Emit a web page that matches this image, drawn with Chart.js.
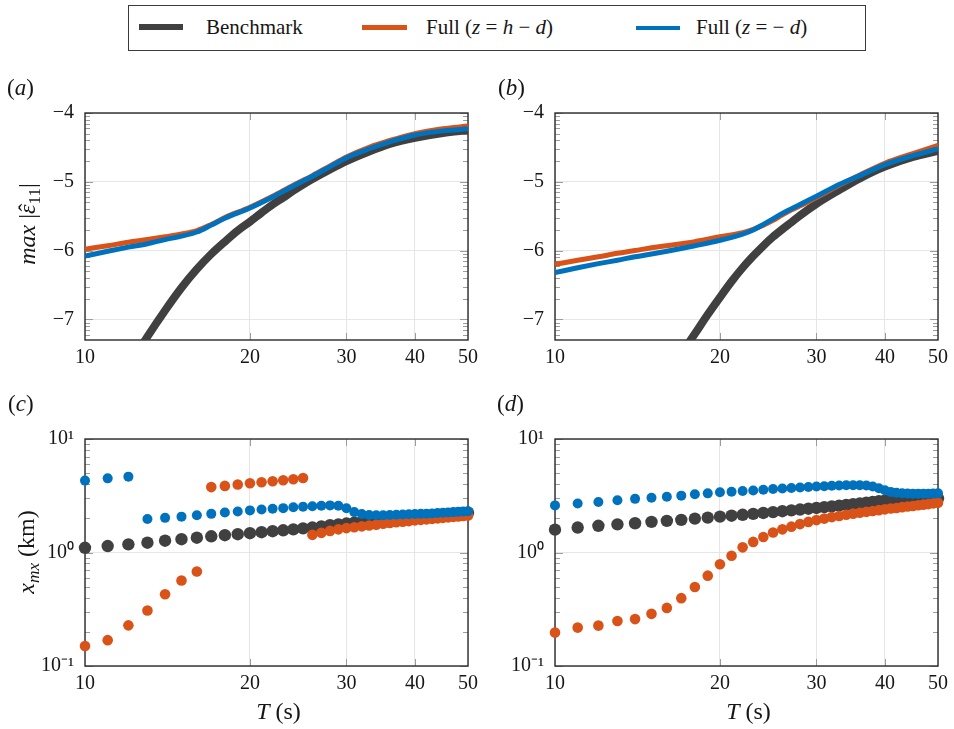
<!DOCTYPE html>
<html>
<head>
<meta charset="utf-8">
<script src="https://cdn.jsdelivr.net/npm/chart.js@4.4.1/dist/chart.umd.min.js"></script>
<style>
html,body{margin:0;padding:0;background:#fff;}
#fig{position:relative;width:954px;height:729px;overflow:hidden;font-family:"Liberation Serif","Times New Roman",serif;color:#161616;}
canvas{position:absolute;}
.t{position:absolute;white-space:nowrap;line-height:1;}
.sw{position:absolute;}
.rot{transform:translate(-50%,-50%) rotate(-90deg);}
.cen{transform:translate(-50%,-50%);}
sub{font-size:0.72em;vertical-align:-0.28em;line-height:0;}
.hat{position:relative;display:inline-block;}
.hat b{position:absolute;left:0.11em;top:0.02em;font-weight:normal;font-style:normal;}
</style>
</head>
<body>
<div id="fig">
  <canvas id="cA" width="484" height="290" style="left:0px;top:90px;"></canvas>
  <canvas id="cB" width="484" height="290" style="left:470px;top:90px;"></canvas>
  <canvas id="cC" width="484" height="290" style="left:0px;top:416px;"></canvas>
  <canvas id="cD" width="484" height="290" style="left:470px;top:416px;"></canvas>

  <div style="position:absolute;left:128px;top:5px;width:738px;height:46px;border:1.3px solid #3a3a3a;box-sizing:border-box;"></div>
  <div class="sw" style="left:139px;top:24px;width:44px;height:6px;background:#404040;"></div>
  <div class="t" style="left:206px;top:17.4px;font-size:21px;">Benchmark</div>
  <div class="sw" style="left:362px;top:25px;width:45px;height:5px;background:#d95319;"></div>
  <div class="t" style="left:426px;top:17.4px;font-size:21px;">Full (<i>z</i> = <i>h</i> − <i>d</i>)</div>
  <div class="sw" style="left:636px;top:25.5px;width:44px;height:4.5px;background:#0072bd;"></div>
  <div class="t" style="left:696px;top:17.4px;font-size:21px;">Full (<i>z</i> = − <i>d</i>)</div>

  <div class="t" style="left:7px;top:75.7px;font-size:23px;">(<i>a</i>)</div>
  <div class="t" style="left:498px;top:75.7px;font-size:23px;">(<i>b</i>)</div>
  <div class="t" style="left:8px;top:391.7px;font-size:23px;">(<i>c</i>)</div>
  <div class="t" style="left:497px;top:391.7px;font-size:23px;">(<i>d</i>)</div>

  <div class="t rot" style="left:27px;top:224px;font-size:24px;"><i>max</i> |<span class="hat"><i>ε</i><b>ˆ</b></span><sub>11</sub>|</div>
  <div class="t rot" style="left:26px;top:552px;font-size:24px;"><i>x</i><sub><i>mx</i></sub> (km)</div>
  <div class="t cen" style="left:278.5px;top:711px;font-size:24px;"><i>T</i> (s)</div>
  <div class="t cen" style="left:748.5px;top:711px;font-size:24px;"><i>T</i> (s)</div>
</div>
<script>
// ---------- data ----------
const xTickValues = [10, 20, 30, 40, 50];
const yTickValuesTop = [-7, -6, -5, -4];
const yTickValuesBottom = [0.1, 1, 10];

// (a) lines
const T_LINE_A  = [10,11,12,13,14,15,16,17,18,20,22,24,26,28,30,33,36,40,45,50];
const T_BENCH_A = [12,13,14,15,16,17,18,19,20,21,22,23,24,25,26,28,30,33,36,40,45,50];
const benchA = [-7.69,-7.25,-6.87,-6.54,-6.27,-6.05,-5.87,-5.71,-5.58,-5.45,-5.33,-5.23,-5.13,-5.04,-4.96,-4.82,-4.70,-4.56,-4.45,-4.36,-4.29,-4.25];
const fullHA = [-5.98,-5.93,-5.88,-5.84,-5.80,-5.76,-5.71,-5.62,-5.52,-5.37,-5.21,-5.05,-4.91,-4.77,-4.64,-4.50,-4.40,-4.30,-4.23,-4.19];
const fullDA = [-6.08,-6.01,-5.95,-5.90,-5.84,-5.79,-5.73,-5.63,-5.53,-5.38,-5.22,-5.06,-4.92,-4.78,-4.65,-4.52,-4.42,-4.32,-4.26,-4.23];

// (b) lines
const T_LINE_B  = [10,11,12,13,14,15,16,17,18,20,22,23,24,25,26,28,30,33,36,40,45,50];
const T_BENCH_B = [17,18,19,20,21,22,23,24,25,26,27,28,30,33,36,40,45,50];
const benchB = [-7.50,-7.21,-6.93,-6.68,-6.45,-6.25,-6.08,-5.93,-5.80,-5.69,-5.59,-5.49,-5.32,-5.12,-4.95,-4.78,-4.64,-4.55];
const fullHB = [-6.20,-6.14,-6.09,-6.04,-6.00,-5.96,-5.93,-5.90,-5.87,-5.80,-5.74,-5.69,-5.63,-5.56,-5.48,-5.35,-5.23,-5.05,-4.90,-4.73,-4.59,-4.47];
const fullDB = [-6.32,-6.25,-6.19,-6.14,-6.09,-6.05,-6.01,-5.97,-5.93,-5.85,-5.76,-5.70,-5.62,-5.54,-5.46,-5.33,-5.21,-5.04,-4.91,-4.75,-4.62,-4.52];

// (c), (d) scatter, periods T = 10..50 s
const periods = [10,11,12,13,14,15,16,17,18,19,20,21,22,23,24,25,26,27,28,29,30,31,32,33,34,35,36,37,38,39,40,41,42,43,44,45,46,47,48,49,50];
const benchC = [1.10,1.14,1.18,1.22,1.27,1.31,1.35,1.39,1.42,1.45,
                1.48,1.51,1.54,1.57,1.60,1.63,1.66,1.70,1.74,1.77,
                1.80,1.83,1.86,1.89,1.92,1.95,1.97,1.99,2.01,2.03,
                2.05,2.07,2.09,2.11,2.13,2.15,2.17,2.19,2.20,2.22,
                2.24];
const fullHC = [0.150,0.169,0.228,0.308,0.429,0.567,0.681,3.77,3.86,3.97,
                4.08,4.16,4.25,4.33,4.42,4.53,1.43,1.49,1.55,1.60,
                1.64,1.67,1.70,1.73,1.76,1.79,1.82,1.85,1.87,1.89,
                1.92,1.94,1.96,1.98,2.00,2.02,2.04,2.06,2.08,2.10,
                2.12];
const fullDC = [4.30,4.50,4.66,1.97,2.02,2.07,2.13,2.19,2.25,2.30,
                2.35,2.39,2.43,2.46,2.50,2.53,2.56,2.58,2.60,2.58,
                2.45,2.27,2.18,2.14,2.13,2.13,2.14,2.15,2.16,2.17,
                2.18,2.19,2.20,2.21,2.23,2.24,2.25,2.27,2.28,2.30,
                2.31];
const benchD = [1.59,1.66,1.72,1.77,1.81,1.86,1.90,1.94,1.99,2.03,
                2.07,2.11,2.15,2.19,2.23,2.27,2.31,2.35,2.39,2.43,
                2.47,2.51,2.55,2.59,2.63,2.67,2.71,2.75,2.79,2.83,
                2.86,2.89,2.91,2.93,2.94,2.95,2.96,2.97,2.98,2.99,
                3.00];
const fullHD = [0.197,0.218,0.227,0.249,0.259,0.288,0.325,0.396,0.496,0.625,
                0.787,0.937,1.11,1.24,1.37,1.50,1.60,1.69,1.78,1.86,
                1.93,1.99,2.05,2.10,2.15,2.20,2.24,2.28,2.32,2.36,
                2.40,2.44,2.47,2.51,2.54,2.57,2.61,2.64,2.67,2.71,
                2.74];
const fullDD = [2.60,2.70,2.79,2.89,2.97,3.04,3.10,3.17,3.26,3.32,
                3.39,3.43,3.48,3.52,3.57,3.62,3.66,3.70,3.74,3.78,
                3.81,3.84,3.87,3.89,3.91,3.92,3.92,3.90,3.82,3.68,
                3.53,3.42,3.36,3.33,3.31,3.30,3.30,3.30,3.30,3.31,
                3.32];

// ---------- styling ----------
const C_BENCH = '#404040', C_H = '#d95319', C_D = '#0072bd';
const FONT = '"Liberation Serif", "Times New Roman", Times, serif';
const TXT = '#161616';
Chart.defaults.font.family = FONT;
Chart.defaults.font.size = 20;
Chart.defaults.color = TXT;

function pts(xs, ys) { return xs.map((x, i) => ({ x: x, y: ys[i] })); }

// minor tick positions (axis decoration only)
const minorTop = [];
for (let n = -8; n <= -5; n++) for (let k = 2; k <= 9; k++) {
  const v = n + Math.log10(k);
  if (v > -7.3 && v < -4) minorTop.push(v);
}
const minorBottom = [];
for (const d of [0.1, 1]) for (let k = 2; k <= 9; k++) minorBottom.push(+(k * d).toFixed(3));

const framePlugin = {
  id: 'frame',
  beforeDatasetsDraw(chart, args, o) {
    const ctx = chart.ctx, a = chart.chartArea;
    const xs = chart.scales.x, ys = chart.scales.y;
    ctx.save();
    ctx.lineWidth = 1;
    ctx.strokeStyle = '#9c9c9c';
    ctx.beginPath();
    for (const v of o.xMajor) {
      const p = Math.round(xs.getPixelForValue(v)) + 0.5;
      ctx.moveTo(p, a.top); ctx.lineTo(p, a.top + 7);
      ctx.moveTo(p, a.bottom); ctx.lineTo(p, a.bottom - 7);
    }
    const yt = o.yMajor.map(v => [v, 8]).concat(o.yMinor.map(v => [v, 5]));
    for (const [v, len] of yt) {
      const p = Math.round(ys.getPixelForValue(v)) + 0.5;
      ctx.moveTo(a.left, p); ctx.lineTo(a.left + len, p);
      ctx.moveTo(a.right, p); ctx.lineTo(a.right - len, p);
    }
    ctx.stroke();
    ctx.strokeStyle = '#2a2a2a';
    ctx.lineWidth = 1.4;
    ctx.strokeRect(a.left, a.top, a.right - a.left, a.bottom - a.top);
    ctx.restore();
  }
};

const tickFont = { family: FONT, size: 20, style: 'normal', weight: 'normal' };

function xScale() {
  return {
    type: 'logarithmic', min: 10, max: 50,
    afterBuildTicks: s => { s.ticks = xTickValues.map(v => ({ value: v })); },
    afterFit: s => { s.height = 40; },
    ticks: { autoSkip: false, maxRotation: 0, padding: 6, color: TXT,
             font: tickFont, callback: v => String(v) },
    grid: { color: '#e6e6e6', lineWidth: 1, drawTicks: false },
    border: { display: false }
  };
}

function baseOptions(yScale, yMajor, yMinor) {
  return {
    responsive: false, animation: false, events: [], devicePixelRatio: 1,
    font: tickFont,
    layout: { padding: { top: 18, right: 12, left: 0, bottom: 0 } },
    plugins: { legend: { display: false }, tooltip: { enabled: false },
               frame: { xMajor: [20, 30, 40], yMajor: yMajor, yMinor: yMinor } },
    scales: { x: xScale(), y: yScale }
  };
}

function topY() {
  return {
    type: 'linear', min: -7.3, max: -4,
    afterBuildTicks: s => { s.ticks = yTickValuesTop.map(v => ({ value: v })); },
    afterFit: s => { s.width = 85; },
    ticks: { padding: 11, color: TXT, font: tickFont,
             callback: v => (v < 0 ? '\u2212' + Math.abs(v) : String(v)) },
    grid: { color: '#e6e6e6', lineWidth: 1, drawTicks: false },
    border: { display: false }
  };
}

function bottomY() {
  const lab = { 0.1: '10\u207B\u00B9', 1: '10\u2070', 10: '10\u00B9' };
  return {
    type: 'logarithmic', min: 0.1, max: 10,
    afterBuildTicks: s => { s.ticks = yTickValuesBottom.map(v => ({ value: v })); },
    afterFit: s => { s.width = 85; },
    ticks: { padding: 11, color: TXT, font: tickFont,
             callback: v => lab[v] !== undefined ? lab[v] : '' },
    grid: { color: '#e6e6e6', lineWidth: 1, drawTicks: false },
    border: { display: false }
  };
}

function lineDs(data, color, width, order) {
  return { type: 'line', data: data, borderColor: color, borderWidth: width,
           pointRadius: 0, fill: false, cubicInterpolationMode: 'monotone',
           borderCapStyle: 'butt', borderJoinStyle: 'round', clip: 0, order: order };
}
function dotDs(data, color, r, order) {
  return { type: 'scatter', data: data, backgroundColor: color, borderWidth: 0,
           pointRadius: r, pointBorderWidth: 0, showLine: false, clip: false, order: order };
}

function lineChart(id, tb, b, tl, h, d) {
  new Chart(document.getElementById(id), {
    type: 'line',
    data: { datasets: [
      lineDs(pts(tb, b), C_BENCH, 8, 3),
      lineDs(pts(tl, h), C_H, 5, 2),
      lineDs(pts(tl, d), C_D, 5, 1)
    ] },
    options: baseOptions(topY(), yTickValuesTop, minorTop),
    plugins: [framePlugin]
  });
}

function dotChart(id, b, h, d) {
  new Chart(document.getElementById(id), {
    type: 'scatter',
    data: { datasets: [
      dotDs(pts(periods, b), C_BENCH, 6.2, 3),
      dotDs(pts(periods, h), C_H, 5.3, 2),
      dotDs(pts(periods, d), C_D, 5, 1)
    ] },
    options: baseOptions(bottomY(), yTickValuesBottom, minorBottom),
    plugins: [framePlugin]
  });
}

lineChart('cA', T_BENCH_A, benchA, T_LINE_A, fullHA, fullDA);
lineChart('cB', T_BENCH_B, benchB, T_LINE_B, fullHB, fullDB);
dotChart('cC', benchC, fullHC, fullDC);
dotChart('cD', benchD, fullHD, fullDD);
</script>
</body>
</html>
